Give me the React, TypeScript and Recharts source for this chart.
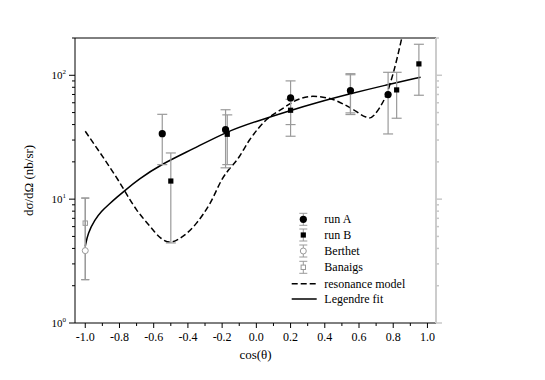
import React from "react";
import { ComposedChart, Scatter, Line, XAxis, YAxis, ErrorBar } from "recharts";

// tick values
const xTicks = [-1.0, -0.9, -0.8, -0.7, -0.6, -0.5, -0.4, -0.3, -0.2, -0.1, 0.0, 0.1, 0.2, 0.3, 0.4, 0.5, 0.6, 0.7, 0.8, 0.9, 1.0];
const xLabelTicks = [-1.0, -0.8, -0.6, -0.4, -0.2, 0.0, 0.2, 0.4, 0.6, 0.8, 1.0];
const yTicks = [1, 2, 3, 4, 5, 6, 7, 8, 9, 10, 20, 30, 40, 50, 60, 70, 80, 90, 100, 200];

// run A (filled circles)
const runAX = [-0.55, -0.18, 0.2, 0.55, 0.77];
const runAY = [33.8, 36.4, 65.6, 75.2, 69.8];
const runALow = [19.0, 17.9, 32.2, 49.7, 33.6];
const runAHigh = [48.4, 52.7, 90.1, 103, 105.7];

// run B (filled squares)
const runBX = [-0.5, -0.17, 0.2, 0.55, 0.82, 0.95];
const runBY = [14.0, 33.4, 52.2, 74.0, 76.2, 123.6];
const runBLow = [4.43, 19.0, 40.0, 48.2, 45.0, 69.0];
const runBHigh = [23.6, 47.9, 64.0, 101, 105.7, 178];

// Berthet / Banaigs
const berthetX = [-1.0];
const berthetY = [3.84];
const berthetLow = [2.24];
const berthetHigh = [10.2];
const banaigsX = [-1.0];
const banaigsY = [6.4];
const banaigsLow = [2.24];
const banaigsHigh = [10.2];

// resonance model (dashed)
const resX = [-1.0, -0.81, -0.7, -0.62, -0.56, -0.506, -0.43, -0.35, -0.27, -0.2, -0.1, -0.04, 0.06, 0.16, 0.22, 0.33, 0.43, 0.55, 0.64, 0.66, 0.72, 0.76, 0.8, 0.85];
const resY = [35.3, 14.4, 8.2, 6.0, 4.86, 4.5, 5.0, 6.4, 9.3, 14.5, 22.0, 30.0, 43.9, 54.6, 61.6, 67.6, 64.9, 54.6, 46.1, 45.3, 54.6, 69.8, 104, 200];

// Legendre fit (solid)
const legX = [-1.0, -0.985, -0.945, -0.905, -0.865, -0.81, -0.77, -0.69, -0.56, -0.37, -0.17, 0.0, 0.2, 0.35, 0.55, 0.75, 0.96];
const legY = [4.16, 5.3, 6.8, 8.0, 9.0, 10.5, 11.7, 14.4, 19.0, 25.4, 35.3, 42.5, 52, 60, 71, 83, 96.4];

const legendNames = ["run A", "run B", "Berthet", "Banaigs", "resonance model", "Legendre fit"];

const withErr = (xs: number[], ys: number[], lo: number[], hi: number[]) =>
  xs.map((x, i) => ({ x, y: ys[i], err: [ys[i] - lo[i], hi[i] - ys[i]] }));
const curve = (xs: number[], ys: number[]) => xs.map((x, i) => ({ x, y: ys[i] }));

const runA = withErr(runAX, runAY, runALow, runAHigh);
const runB = withErr(runBX, runBY, runBLow, runBHigh);
const berthet = withErr(berthetX, berthetY, berthetLow, berthetHigh);
const banaigs = withErr(banaigsX, banaigsY, banaigsLow, banaigsHigh);
const resonance = curve(resX, resY);
const legendre = curve(legX, legY);

const FONT = "'Liberation Serif', serif";
const ERR = "#9a9a9a";

const isMajorX = (v: number) => xLabelTicks.some((t) => Math.abs(t - v) < 1e-6);
const isMajorY = (v: number) => v === 1 || v === 10 || v === 100;

const BottomTick = (p: any) => {
  const { x, y, payload } = p;
  const v = payload.value;
  const major = isMajorX(v);
  return (
    <g>
      <line x1={x} x2={x} y1={y} y2={y + (major ? 5 : 3)} stroke="#000" />
      {major && (
        <text x={x} y={y + 18} textAnchor="middle" fontSize={12} fill="#000" fontFamily={FONT}>
          {v.toFixed(1)}
        </text>
      )}
    </g>
  );
};

const TopTick = (p: any) => {
  const { x, y } = p;
  return <line x1={x} x2={x} y1={y} y2={y - 5} stroke="#000" />;
};

const LeftTick = (p: any) => {
  const { x, y, payload } = p;
  const v = payload.value;
  const major = isMajorY(v);
  return (
    <g>
      <line x1={x - (major ? 6 : 3)} x2={x} y1={y} y2={y} stroke="#000" />
      {major && (
        <text x={x - 9} y={y + 4} textAnchor="end" fontSize={11} fill="#000" fontFamily={FONT}>
          10<tspan dy={-5} fontSize={7}>{Math.round(Math.log10(v))}</tspan>
        </text>
      )}
    </g>
  );
};

const RightTick = (p: any) => {
  const { x, y, payload } = p;
  const major = isMajorY(payload.value);
  return <line x1={x} x2={x + (major ? 6 : 3)} y1={y} y2={y} stroke="#c8c8c8" strokeWidth={1.5} />;
};

const FilledCircle = (p: any) => <circle cx={p.cx} cy={p.cy} r={3.6} fill="#000" />;
const FilledSquare = (p: any) => <rect x={p.cx - 2.6} y={p.cy - 2.6} width={5.2} height={5.2} fill="#000" />;
const OpenCircle = (p: any) => <circle cx={p.cx} cy={p.cy} r={3} fill="#fff" stroke={ERR} />;
const OpenSquare = (p: any) => <rect x={p.cx - 2.2} y={p.cy - 2.2} width={4.4} height={4.4} fill="none" stroke={ERR} />;

const LegendBox = () => {
  const rows = [8.3, 24, 40, 56.3, 72.7, 88];
  const sx = 15.3;
  const bar = (y: number) => (
    <g stroke={ERR}>
      <line x1={sx} x2={sx} y1={y - 6} y2={y + 6} />
      <line x1={sx - 4} x2={sx + 4} y1={y - 6} y2={y - 6} />
      <line x1={sx - 4} x2={sx + 4} y1={y + 6} y2={y + 6} />
    </g>
  );
  return (
    <svg width={140} height={100} style={{ position: "absolute", left: 280, top: 203 }}>
      {bar(rows[0])}
      <circle cx={sx} cy={rows[0]} r={3.6} fill="#000" />
      {bar(rows[1])}
      <rect x={sx - 2.6} y={rows[1] - 2.6} width={5.2} height={5.2} fill="#000" />
      {bar(rows[2])}
      <circle cx={sx} cy={rows[2]} r={3} fill="#fff" stroke={ERR} />
      {bar(rows[3])}
      <rect x={sx - 2.2} y={rows[3] - 2.2} width={4.4} height={4.4} fill="#fff" stroke={ERR} />
      <line x1={3.7} x2={28.7} y1={rows[4]} y2={rows[4]} stroke="#000" strokeWidth={1.5} strokeDasharray="6 3" />
      <line x1={3.7} x2={28.7} y1={rows[5]} y2={rows[5]} stroke="#000" strokeWidth={1.5} />
      {legendNames.map((n, i) => (
        <text key={n} x={36.3} y={rows[i] + 4} fontSize={12} fill="#000" fontFamily={FONT}>
          {n}
        </text>
      ))}
    </svg>
  );
};

export default function App() {
  return (
    <div style={{ position: "relative", width: 530, height: 364 }}>
      <ComposedChart
        width={530}
        height={364}
        margin={{ top: 20, right: 82, bottom: 9, left: 7 }}
        style={{ fontFamily: FONT }}
      >
        <XAxis
          dataKey="x"
          type="number"
          domain={[-1.06, 1.05]}
          ticks={xTicks}
          interval={0}
          height={40}
          tickSize={0}
          tickMargin={0}
          tickLine={false}
          tick={<BottomTick />}
          axisLine={{ stroke: "#000" }}
          allowDataOverflow
          label={(props: any) => {
            const vb = props.viewBox;
            return (
              <text x={vb.x + vb.width / 2} y={351} textAnchor="middle" fontSize={13} fill="#000" fontFamily={FONT}>
                cos(θ)
              </text>
            );
          }}
        />
        <XAxis
          xAxisId="top"
          orientation="top"
          type="number"
          domain={[-1.06, 1.05]}
          ticks={xTicks}
          interval={0}
          height={10}
          tickSize={0}
          tickMargin={0}
          tickLine={false}
          tick={<TopTick />}
          axisLine={{ stroke: "#000" }}
          allowDataOverflow
        />
        <YAxis
          dataKey="y"
          type="number"
          scale="log"
          domain={[1, 200]}
          ticks={yTicks}
          interval={0}
          width={60}
          tickSize={0}
          tickMargin={0}
          tickLine={false}
          tick={<LeftTick />}
          axisLine={{ stroke: "#000" }}
          allowDataOverflow
          label={(props: any) => {
            const vb = props.viewBox;
            const cy = vb.y + vb.height / 2;
            return (
              <text x={20} y={cy} transform={`rotate(-90, 20, ${cy})`} textAnchor="middle" dominantBaseline="central" fontSize={13} fill="#000" fontFamily={FONT}>
                dσ/dΩ (nb/sr)
              </text>
            );
          }}
        />
        <YAxis
          yAxisId="right"
          orientation="right"
          type="number"
          scale="log"
          domain={[1, 200]}
          ticks={yTicks}
          interval={0}
          width={20}
          tickSize={0}
          tickMargin={0}
          tickLine={false}
          tick={<RightTick />}
          axisLine={{ stroke: "#cccccc", strokeWidth: 2 }}
          allowDataOverflow
        />
        <Line data={resonance} dataKey="y" type="monotone" stroke="#000" strokeWidth={1.5} strokeDasharray="6 3" dot={false} isAnimationActive={false} />
        <Line data={legendre} dataKey="y" type="basis" stroke="#000" strokeWidth={1.5} dot={false} isAnimationActive={false} />
        <Scatter data={berthet} dataKey="y" shape={<OpenCircle />} isAnimationActive={false}>
          <ErrorBar dataKey="err" direction="y" width={4} stroke={ERR} strokeWidth={1.2} isAnimationActive={false} />
        </Scatter>
        <Scatter data={banaigs} dataKey="y" shape={<OpenSquare />} isAnimationActive={false}>
          <ErrorBar dataKey="err" direction="y" width={4} stroke={ERR} strokeWidth={1.2} isAnimationActive={false} />
        </Scatter>
        <Scatter data={runA} dataKey="y" shape={<FilledCircle />} isAnimationActive={false}>
          <ErrorBar dataKey="err" direction="y" width={5} stroke={ERR} strokeWidth={1.2} isAnimationActive={false} />
        </Scatter>
        <Scatter data={runB} dataKey="y" shape={<FilledSquare />} isAnimationActive={false}>
          <ErrorBar dataKey="err" direction="y" width={5} stroke={ERR} strokeWidth={1.2} isAnimationActive={false} />
        </Scatter>
      </ComposedChart>
      <LegendBox />
    </div>
  );
}
